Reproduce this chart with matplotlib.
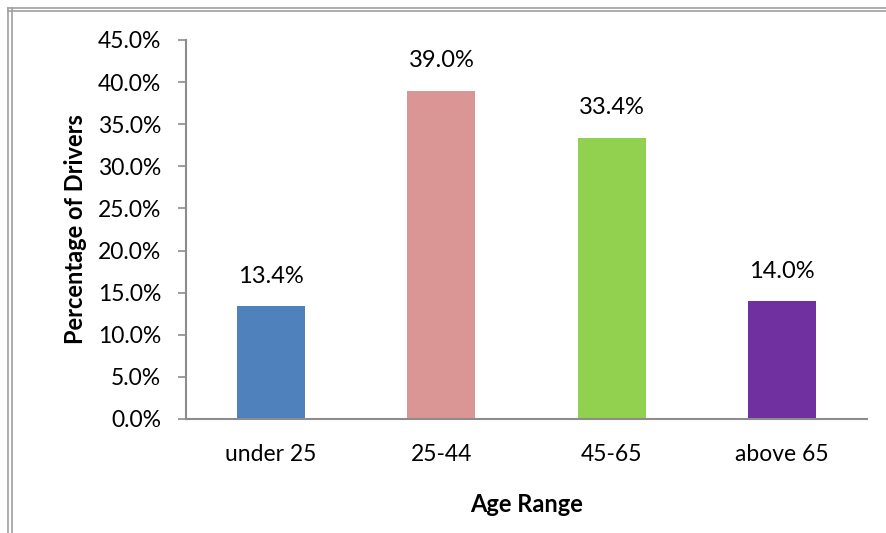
import matplotlib
import matplotlib.pyplot as plt
from matplotlib.lines import Line2D
from matplotlib.ticker import FuncFormatter, MultipleLocator

matplotlib.use("Agg", force=True)

categories = ["under 25", "25-44", "45-65", "above 65"]
shares = [13.4, 39.0, 33.4, 14.0]
colors = ["#4F81BD", "#D99694", "#92D050", "#7030A0"]

plt.rcParams["font.family"] = ["Lato", "DejaVu Sans"]

fig = plt.figure(figsize=(8.86, 5.33), dpi=100)
ax = fig.add_axes([0.21, 0.2139, 0.7686, 0.7111])

x = range(len(categories))
ax.bar(x, shares, width=0.4, color=colors)
for xi, v in zip(x, shares):
    ax.annotate(f"{v:.1f}%", (xi, v), xytext=(0, 14), textcoords="offset points",
                ha="center", va="bottom", fontsize=17)

ax.set_xlim(-0.5, len(categories) - 0.5)
ax.set_ylim(0, 45)
ax.yaxis.set_major_locator(MultipleLocator(5))
ax.yaxis.set_major_formatter(FuncFormatter(lambda v, _: f"{v:.1f}%"))
ax.set_xticks(list(x), categories)

spine_color = "#8C8C8C"
for side in ("top", "right"):
    ax.spines[side].set_visible(False)
for side in ("left", "bottom"):
    ax.spines[side].set_color(spine_color)
    ax.spines[side].set_linewidth(1.5)
ax.tick_params(axis="y", length=6, width=1.2, color=spine_color, pad=12, labelsize=16.5)
ax.tick_params(axis="x", length=0, pad=18, labelsize=16.5)

ax.set_xlabel("Age Range", fontsize=17, fontweight="bold", labelpad=20)
ax.set_ylabel("Percentage of Drivers", fontsize=17, fontweight="bold", labelpad=8)

# double border on top and left, like the pasted chart frame
for y in (1 - 7.5 / 533, 1 - 10.5 / 533):
    fig.add_artist(Line2D([8 / 886, 1], [y, y], color="#A0A0A0", lw=1.2))
for xx in (8 / 886, 11.5 / 886):
    fig.add_artist(Line2D([xx, xx], [0, 1 - 7.5 / 533], color="#A0A0A0", lw=1.2))

fig.savefig("out.png", dpi=100)
